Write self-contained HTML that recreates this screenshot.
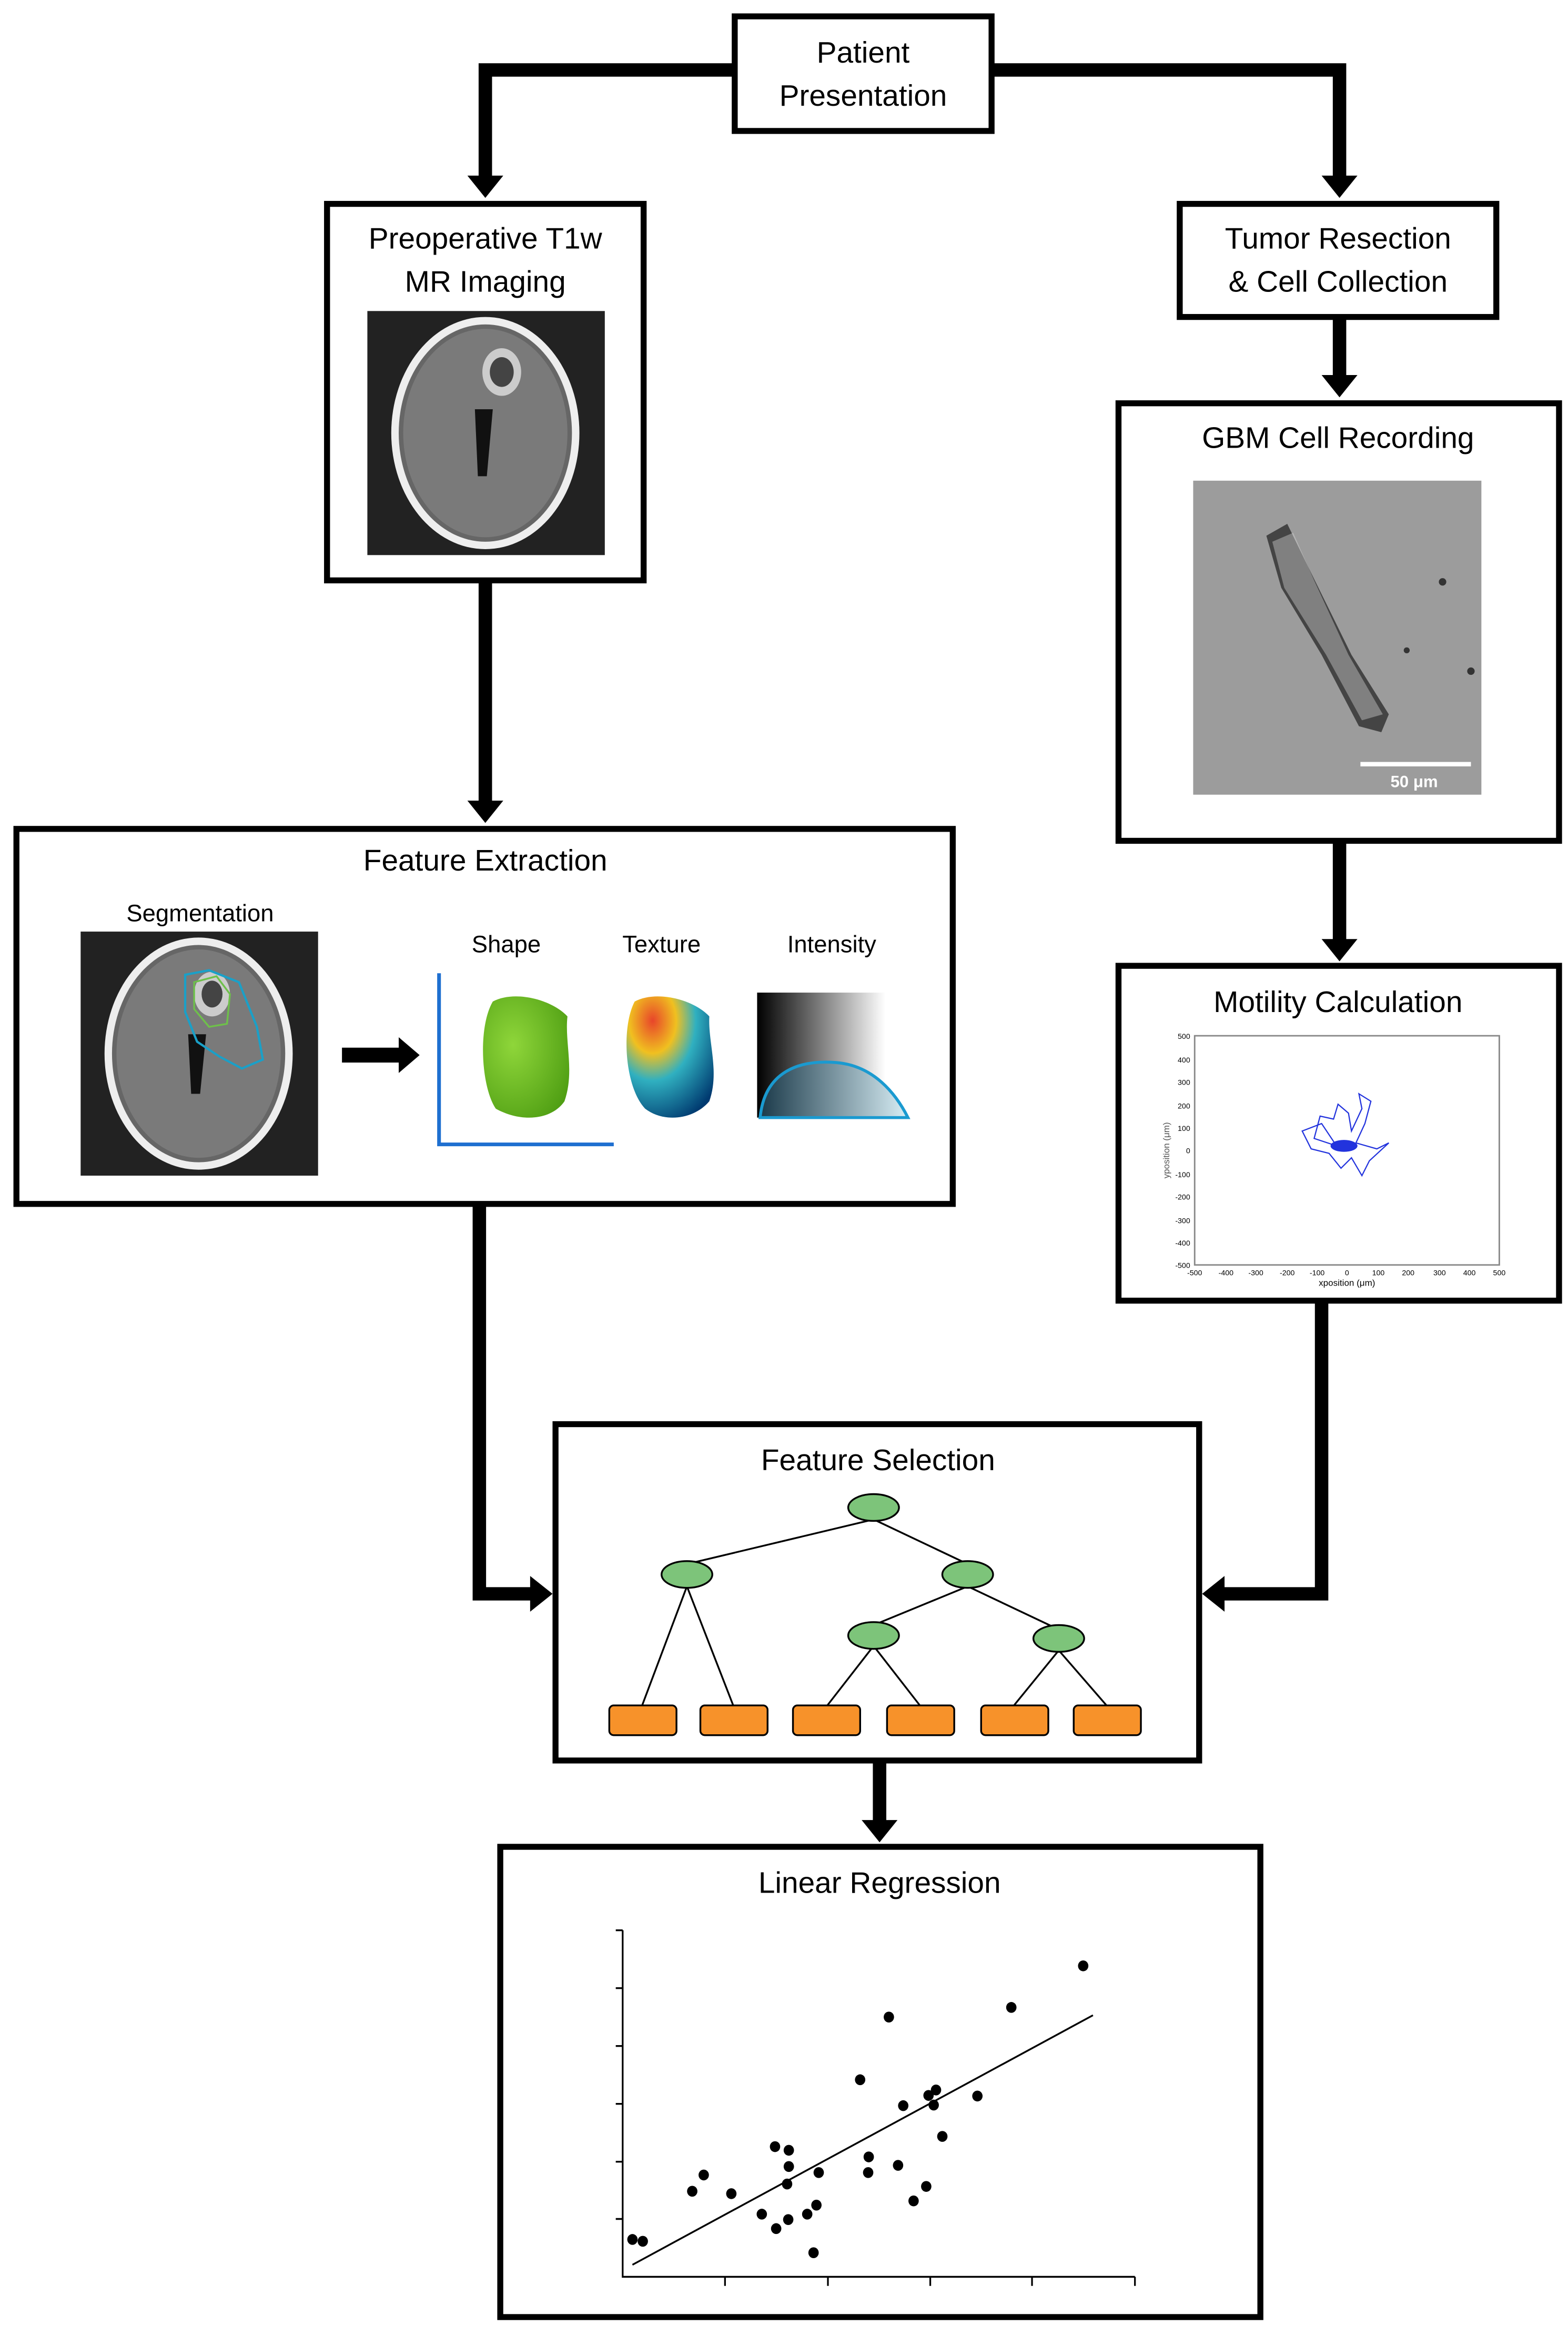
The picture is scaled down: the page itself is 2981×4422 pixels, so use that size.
<!DOCTYPE html>
<html><head><meta charset="utf-8"><style>
html,body{margin:0;padding:0;background:#fff}
svg{display:block}
text{font-family:"Liberation Sans",sans-serif;fill:#000}
</style></head><body>
<svg width="2981" height="4422" viewBox="0 0 1050 1563" preserveAspectRatio="none" xmlns="http://www.w3.org/2000/svg">
<defs>
<linearGradient id="gr" x1="0" x2="1"><stop offset="0" stop-color="#000"/><stop offset="0.85" stop-color="#fff"/></linearGradient>
<linearGradient id="gr2" x1="0" x2="1"><stop offset="0" stop-color="#1b3a4a"/><stop offset="1" stop-color="#d8eef5"/></linearGradient>
<radialGradient id="tex" cx="0.3" cy="0.2" r="0.9"><stop offset="0" stop-color="#e8452a"/><stop offset="0.3" stop-color="#f0c020"/><stop offset="0.55" stop-color="#30b0c0"/><stop offset="1" stop-color="#003a70"/></radialGradient>
<radialGradient id="shp" cx="0.35" cy="0.4" r="0.8"><stop offset="0" stop-color="#8fd63a"/><stop offset="1" stop-color="#4a9a10"/></radialGradient>
</defs>

<g fill="none" stroke="#000" stroke-width="9">
<polyline points="491,47 325,47 325,120"/>
<polyline points="665,47 897,47 897,120"/>
<line x1="897" y1="214" x2="897" y2="255"/>
<line x1="897" y1="566" x2="897" y2="633"/>
<line x1="325" y1="391" x2="325" y2="540"/>
<polyline points="321,810 321,1071 357,1071"/>
<polyline points="885,875 885,1071 818,1071"/>
<line x1="589" y1="1184" x2="589" y2="1225"/>
</g>
<g fill="#000">
<polygon points="313,118 337,118 325,133"/>
<polygon points="885,118 909,118 897,133"/>
<polygon points="885,252 909,252 897,267"/>
<polygon points="885,631 909,631 897,646"/>
<polygon points="313,538 337,538 325,553"/>
<polygon points="355,1059 355,1083 370,1071"/>
<polygon points="820,1059 820,1083 805,1071"/>
<polygon points="577,1223 601,1223 589,1238"/>
</g>

<g fill="#fff" stroke="#000" stroke-width="4">
<rect x="492" y="11" width="172" height="77"/>
<rect x="219" y="137" width="212" height="253"/>
<rect x="790" y="137" width="212" height="76"/>
<rect x="749" y="271" width="295" height="294"/>
<rect x="749" y="649" width="295" height="225"/>
<rect x="11" y="557" width="627" height="252"/>
<rect x="372" y="957" width="431" height="226"/>
<rect x="335" y="1241" width="509" height="316"/>
</g>

<g font-size="20" text-anchor="middle">
<text x="578" y="42">Patient</text>
<text x="578" y="71">Presentation</text>
<text x="325" y="167">Preoperative T1w</text>
<text x="325" y="196">MR Imaging</text>
<text x="896" y="167">Tumor Resection</text>
<text x="896" y="196">&amp; Cell Collection</text>
<text x="896" y="301">GBM Cell Recording</text>
<text x="896" y="680">Motility Calculation</text>
<text x="325" y="585">Feature Extraction</text>
<text x="588" y="988">Feature Selection</text>
<text x="589" y="1272">Linear Regression</text>
</g>
<g font-size="16" text-anchor="middle">
<text x="134" y="619">Segmentation</text>
<text x="339" y="640">Shape</text>
<text x="443" y="640">Texture</text>
<text x="557" y="640">Intensity</text>
</g>

<rect x="246" y="209" width="159" height="164" fill="#222"/>
<ellipse cx="325" cy="291" rx="63" ry="78" fill="#eee"/>
<ellipse cx="325" cy="291" rx="58" ry="73" fill="#666"/>
<ellipse cx="325" cy="291" rx="55" ry="70" fill="#7a7a7a"/>
<ellipse cx="336" cy="250" rx="13" ry="16" fill="#ccc"/>
<ellipse cx="336" cy="250" rx="8" ry="10" fill="#444"/>
<path d="M318,275 L330,275 L326,320 L320,320 Z" fill="#111"/>

<rect x="54" y="626" width="159" height="164" fill="#222"/>
<ellipse cx="133" cy="708" rx="63" ry="78" fill="#eee"/>
<ellipse cx="133" cy="708" rx="58" ry="73" fill="#666"/>
<ellipse cx="133" cy="708" rx="55" ry="70" fill="#7a7a7a"/>
<ellipse cx="142" cy="668" rx="12" ry="15" fill="#ccc"/>
<ellipse cx="142" cy="668" rx="7" ry="9" fill="#444"/>
<path d="M126,695 L138,695 L134,735 L128,735 Z" fill="#111"/>
<path d="M124,655 L140,652 L160,660 L172,690 L176,712 L162,718 L147,710 L132,700 L124,680 Z" fill="none" stroke="#1aa0c8" stroke-width="1.5"/>
<path d="M130,660 L145,656 L154,668 L152,688 L140,690 L130,678 Z" fill="none" stroke="#6ec04a" stroke-width="1.2"/>

<rect x="229" y="704" width="40" height="10" fill="#000"/>
<polygon points="267,697 281,709 267,721" fill="#000"/>

<polyline points="294,654 294,769 411,769" fill="none" stroke="#1e6fd0" stroke-width="2.5"/>
<path d="M330,673 C345,665 370,672 380,683 C378,700 385,720 378,740 C370,752 350,755 332,745 C322,730 320,690 330,673 Z" fill="url(#shp)"/>
<path d="M425,673 C440,665 465,672 475,683 C474,700 482,720 475,740 C465,752 445,755 432,745 C418,730 416,690 425,673 Z" fill="url(#tex)"/>
<rect x="507" y="667" width="101" height="84" fill="url(#gr)"/>
<path d="M509,751 C512,720 535,712 560,714 C585,716 600,735 608,751 Z" fill="url(#gr2)" stroke="#1a9ad0" stroke-width="2"/>

<rect x="799" y="323" width="193" height="211" fill="#9c9c9c"/>
<path d="M848,360 L862,352 L878,385 L905,440 L930,480 L925,492 L910,488 L885,440 L858,395 Z" fill="#444"/>
<path d="M852,364 L866,358 L880,390 L903,440 L926,480 L912,484 L888,440 L860,395 Z" fill="#ddd" opacity="0.4"/>
<circle cx="966" cy="391" r="2.5" fill="#333"/><circle cx="985" cy="451" r="2.5" fill="#333"/><circle cx="942" cy="437" r="2" fill="#333"/>
<rect x="911" y="512" width="74" height="3" fill="#fff"/>
<text x="947" y="529" font-size="11" font-weight="bold" text-anchor="middle" style="fill:#fff">50 μm</text>

<rect x="800" y="696" width="204" height="154" fill="none" stroke="#888" stroke-width="1"/>
<g font-size="5" style="fill:#555" text-anchor="middle">
<text x="800" y="857">-500</text><text x="821" y="857">-400</text><text x="841" y="857">-300</text><text x="862" y="857">-200</text><text x="882" y="857">-100</text><text x="902" y="857">0</text><text x="923" y="857">100</text><text x="943" y="857">200</text><text x="964" y="857">300</text><text x="984" y="857">400</text><text x="1004" y="857">500</text>
<text x="902" y="864" font-size="6">xposition (μm)</text>
</g>
<g font-size="5" style="fill:#555" text-anchor="end">
<text x="797" y="698">500</text><text x="797" y="714">400</text><text x="797" y="729">300</text><text x="797" y="745">200</text><text x="797" y="760">100</text><text x="797" y="775">0</text><text x="797" y="791">-100</text><text x="797" y="806">-200</text><text x="797" y="822">-300</text><text x="797" y="837">-400</text><text x="797" y="852">-500</text>
</g>
<text x="0" y="0" font-size="6" text-anchor="middle" style="fill:#555" transform="translate(783,773) rotate(-90)">yposition (μm)</text>
<path d="M895,770 L880,765 L884,750 L893,752 L896,742 L903,748 L905,760 L912,745 L910,735 L918,740 L914,755 L908,768 L922,772 L930,768 L917,780 L912,790 L905,778 L898,785 L890,775 L878,772 L872,760 L885,755 Z" fill="none" stroke="#2233dd" stroke-width="0.8"/>
<ellipse cx="900" cy="770" rx="9" ry="4" fill="#2233dd"/>

<!-- tree -->
<g stroke="#000" stroke-width="1.2" fill="none">
<line x1="585" y1="1021" x2="460" y2="1051"/>
<line x1="585" y1="1021" x2="648" y2="1051"/>
<line x1="460" y1="1066" x2="430" y2="1146"/>
<line x1="460" y1="1066" x2="491" y2="1146"/>
<line x1="648" y1="1066" x2="585" y2="1092"/>
<line x1="648" y1="1066" x2="709" y2="1095"/>
<line x1="585" y1="1106" x2="554" y2="1146"/>
<line x1="585" y1="1106" x2="616" y2="1146"/>
<line x1="709" y1="1109" x2="679" y2="1146"/>
<line x1="709" y1="1109" x2="741" y2="1146"/>
</g>
<g fill="#7dc47a" stroke="#000" stroke-width="1.2">
<ellipse cx="585" cy="1013" rx="17" ry="9"/>
<ellipse cx="460" cy="1058" rx="17" ry="9"/>
<ellipse cx="648" cy="1058" rx="17" ry="9"/>
<ellipse cx="585" cy="1099" rx="17" ry="9"/>
<ellipse cx="709" cy="1101" rx="17" ry="9"/>
</g>
<g fill="#f7922a" stroke="#000" stroke-width="1.2">
<rect x="408" y="1146" width="45" height="20" rx="3"/>
<rect x="469" y="1146" width="45" height="20" rx="3"/>
<rect x="531" y="1146" width="45" height="20" rx="3"/>
<rect x="594" y="1146" width="45" height="20" rx="3"/>
<rect x="657" y="1146" width="45" height="20" rx="3"/>
<rect x="719" y="1146" width="45" height="20" rx="3"/>
</g>

<!-- regression -->
<g transform="translate(282.6,933.8) scale(0.385,0.405)">
<g stroke="#000" stroke-width="3" fill="none">
<polyline points="349,897 349,1472 1240,1472"/>
<path d="M337,897 H349 M337,993 H349 M337,1089 H349 M337,1185 H349 M337,1281 H349 M337,1376 H349 M527,1472 V1487 M706,1472 V1487 M884,1472 V1487 M1061,1472 V1487 M1240,1472 V1487"/>
<line x1="366" y1="1452" x2="1167" y2="1038"/>
</g>
<g fill="#000">
<circle cx="366" cy="1410" r="9"/><circle cx="384" cy="1413" r="9"/><circle cx="470" cy="1330" r="9"/><circle cx="490" cy="1303" r="9"/><circle cx="538" cy="1334" r="9"/><circle cx="591" cy="1368" r="9"/><circle cx="614" cy="1256" r="9"/><circle cx="638" cy="1262" r="9"/><circle cx="638" cy="1289" r="9"/><circle cx="635" cy="1318" r="9"/><circle cx="616" cy="1392" r="9"/><circle cx="637" cy="1377" r="9"/><circle cx="670" cy="1368" r="9"/><circle cx="686" cy="1353" r="9"/><circle cx="690" cy="1299" r="9"/><circle cx="681" cy="1432" r="9"/><circle cx="762" cy="1145" r="9"/><circle cx="777" cy="1273" r="9"/><circle cx="776" cy="1299" r="9"/><circle cx="812" cy="1041" r="9"/><circle cx="828" cy="1287" r="9"/><circle cx="837" cy="1188" r="9"/><circle cx="855" cy="1346" r="9"/><circle cx="877" cy="1322" r="9"/><circle cx="881" cy="1171" r="9"/><circle cx="894" cy="1162" r="9"/><circle cx="890" cy="1187" r="9"/><circle cx="905" cy="1239" r="9"/><circle cx="966" cy="1172" r="9"/><circle cx="1025" cy="1025" r="9"/><circle cx="1150" cy="956" r="9"/>
</g>
</g>
</svg>
</body></html>
